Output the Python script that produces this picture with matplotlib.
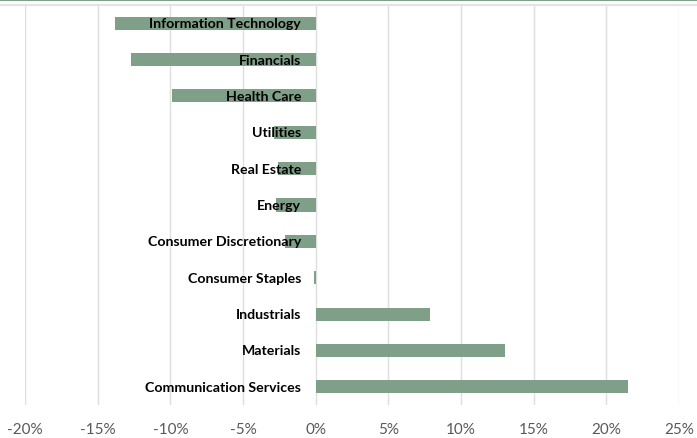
import matplotlib
matplotlib.use('Agg')
import matplotlib.pyplot as plt
from matplotlib.lines import Line2D
from matplotlib.ticker import FuncFormatter

# bottom -> top, as drawn
sectors = [
    "Communication Services", "Materials", "Industrials", "Consumer Staples",
    "Consumer Discretionary", "Energy", "Real Estate", "Utilities",
    "Health Care", "Financials", "Information Technology",
]
returns = [21.5, 13.0, 7.9, -0.1, -2.1, -2.7, -2.6, -2.9, -9.9, -12.7, -13.8]

BAR = "#7f9f88"
GRID = "#dedede"

fig = plt.figure(figsize=(6.97, 4.39), dpi=100)
ax = fig.add_axes([25 / 697, 1 - 406 / 439, 654 / 697, 400 / 439])

ypos = list(range(len(sectors)))
ax.barh(ypos, returns, height=0.36, color=BAR, zorder=2)

for y, name in zip(ypos, sectors):
    ax.text(-1.0, y, name, ha="right", va="center", fontsize=10.2,
            fontweight="bold", family=["Lato", "DejaVu Sans"], color="black", zorder=3)

ax.set_xlim(-20, 25)
ax.set_ylim(-0.5, len(sectors) - 0.5)
ax.set_xticks(range(-20, 26, 5))
ax.xaxis.set_major_formatter(FuncFormatter(lambda v, _: f"{v:.0f}%"))
ax.set_yticks([])
ax.grid(axis="x", color=GRID, linewidth=1, zorder=0)
ax.tick_params(axis="x", length=0, pad=12, labelsize=11, labelcolor="#595959")
for lab in ax.get_xticklabels():
    lab.set_family(["Lato", "DejaVu Sans"])
for s in ax.spines.values():
    s.set_visible(False)

# chart frame remnants at the top
fig.add_artist(Line2D([0, 1], [1 - 0.5 / 439] * 2, transform=fig.transFigure,
                      color="#7f9f88", linewidth=1.5))
fig.add_artist(Line2D([0, 1], [1 - 6 / 439] * 2, transform=fig.transFigure,
                      color="#e3e3e3", linewidth=1.5))

fig.savefig("out.png", dpi=100)
